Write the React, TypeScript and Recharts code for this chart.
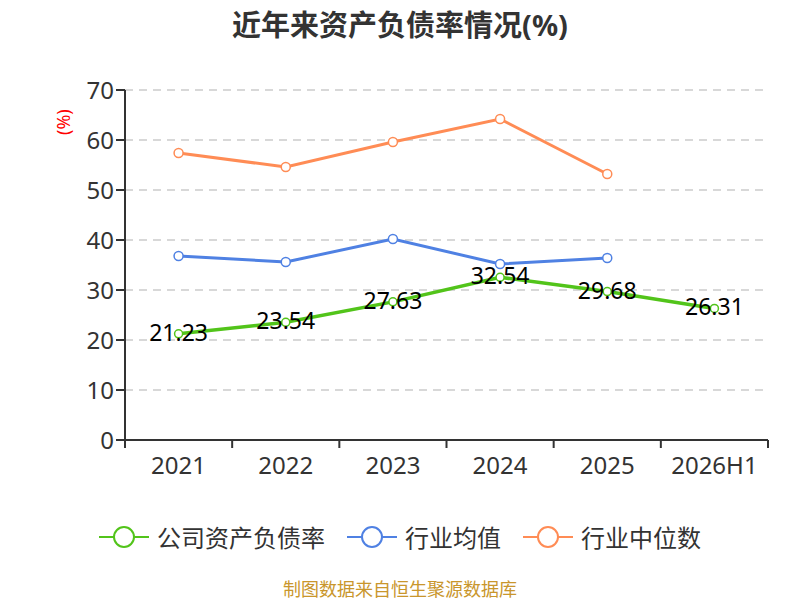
import { LineChart, Line, XAxis, YAxis, CartesianGrid, LabelList } from "recharts";

const years = ["2021", "2022", "2023", "2024", "2025", "2026H1"];
const companyRate = [21.23, 23.54, 27.63, 32.54, 29.68, 26.31];
const industryAvg = [36.8, 35.6, 40.2, 35.2, 36.4, null];
const industryMedian = [57.4, 54.6, 59.6, 64.2, 53.2, null];
const yTicks = [0, 10, 20, 30, 40, 50, 60, 70];

const series = [
  { key: "company", name: "公司资产负债率", color: "#52c41a" },
  { key: "avg", name: "行业均值", color: "#4f81e3" },
  { key: "median", name: "行业中位数", color: "#ff8c55" },
];

const data = years.map((year, i) => ({
  year,
  company: companyRate[i],
  avg: industryAvg[i],
  median: industryMedian[i],
}));

const font = "'Noto Sans', 'Noto Sans CJK SC', sans-serif";
const BAND = 643 / years.length;

const XTick = (props: any) => {
  const { x, y, payload, index } = props;
  return (
    <g>
      <line x1={x - BAND / 2} y1={y - 8} x2={x - BAND / 2} y2={y} stroke="#333" strokeWidth={2} />
      {index === years.length - 1 && (
        <line x1={x + BAND / 2} y1={y - 8} x2={x + BAND / 2} y2={y} stroke="#333" strokeWidth={2} />
      )}
      <text x={x} y={y + 26} textAnchor="middle" fontSize={24} fill="#333" fontFamily={font}>
        {payload.value}
      </text>
    </g>
  );
};

const ValueLabel = (props: any) => {
  const { x, y, value } = props;
  return (
    <text x={x} y={y + 7} textAnchor="middle" fontSize={23} fill="#000" fontFamily={font}>
      {value}
    </text>
  );
};

export default function App() {
  return (
    <div style={{ position: "absolute", left: 0, top: 0, width: 800, height: 600, background: "#fff", fontFamily: font }}>
      <div style={{ position: "absolute", top: 2, width: 800, textAlign: "center", fontSize: 29, fontWeight: "bold", color: "#333" }}>
        近年来资产负债率情况(%)
      </div>
      <LineChart width={800} height={600} data={data} margin={{ top: 90, right: 32, bottom: 120, left: 0 }}>
        <CartesianGrid vertical={false} stroke="#ccc" strokeDasharray="8 6" strokeWidth={1.5} />
        <XAxis
          dataKey="year"
          scale="band"
          height={40}
          axisLine={{ stroke: "#333", strokeWidth: 2 }}
          tickLine={false}
          tick={<XTick />}
          interval={0}
        />
        <YAxis
          width={125}
          domain={[0, 70]}
          ticks={yTicks}
          axisLine={{ stroke: "#333", strokeWidth: 2 }}
          tickLine={{ stroke: "#333", strokeWidth: 2 }}
          tickSize={9}
          tick={{ fontSize: 24, fill: "#333", fontFamily: font }}
          label={{ value: "(%)", angle: -90, position: "insideTopLeft", dx: 52, dy: 40, fill: "#f00", fontSize: 18, fontFamily: font }}
        />
        <Line
          dataKey="median"
          stroke={series[2].color}
          strokeWidth={3}
          dot={{ r: 4.5, fill: "#fff", stroke: series[2].color, strokeWidth: 1.5 }}
          isAnimationActive={false}
        />
        <Line
          dataKey="avg"
          stroke={series[1].color}
          strokeWidth={3}
          dot={{ r: 4.5, fill: "#fff", stroke: series[1].color, strokeWidth: 1.5 }}
          isAnimationActive={false}
        />
        <Line
          dataKey="company"
          stroke={series[0].color}
          strokeWidth={3.5}
          dot={{ r: 4, fill: "#fff", stroke: series[0].color, strokeWidth: 1.5 }}
          isAnimationActive={false}
        >
          <LabelList dataKey="company" content={<ValueLabel />} />
        </Line>
      </LineChart>
      <div style={{ position: "absolute", top: 519, width: 800, display: "flex", justifyContent: "center", gap: 22 }}>
        {series.map((s) => (
          <div key={s.key} style={{ display: "flex", alignItems: "center", fontSize: 24, color: "#333" }}>
            <svg width={50} height={30} style={{ marginRight: 8 }}>
              <line x1={0} y1={15} x2={50} y2={15} stroke={s.color} strokeWidth={2} />
              <circle cx={25} cy={15} r={10} fill="#fff" stroke={s.color} strokeWidth={2} />
            </svg>
            {s.name}
          </div>
        ))}
      </div>
      <div style={{ position: "absolute", top: 580, width: 800, textAlign: "center", fontSize: 18, lineHeight: "18px", color: "#c9962c" }}>
        制图数据来自恒生聚源数据库
      </div>
    </div>
  );
}
